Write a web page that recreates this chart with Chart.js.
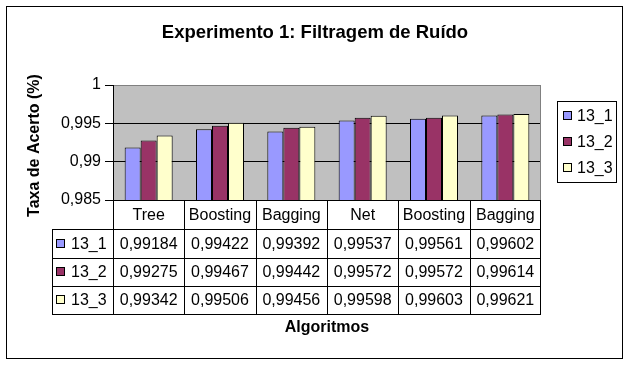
<!DOCTYPE html>
<html>
<head>
<meta charset="utf-8">
<script src="https://cdn.jsdelivr.net/npm/chart.js@4/dist/chart.umd.min.js"></script>
<style>
html,body{margin:0;padding:0;background:#fff;}
canvas{display:block;}
</style>
</head>
<body>
<canvas id="c" width="630" height="384"></canvas>
<script>
const categories = ["Tree", "Boosting", "Bagging", "Net", "Boosting", "Bagging"];
const seriesNames = ["13_1", "13_2", "13_3"];
const s13_1 = [0.99184, 0.99422, 0.99392, 0.99537, 0.99561, 0.99602];
const s13_2 = [0.99275, 0.99467, 0.99442, 0.99572, 0.99572, 0.99614];
const s13_3 = [0.99342, 0.99506, 0.99456, 0.99598, 0.99603, 0.99621];
const seriesColors = ["#9999FF", "#993366", "#FFFFCC"];
const yMin = 0.985, yMax = 1, yStep = 0.005;
const chartTitle = "Experimento 1: Filtragem de Ruído";
const yTitle = "Taxa de Acerto (%)";
const xTitle = "Algoritmos";

const seriesData = [s13_1, s13_2, s13_3];
const FONT = "'Liberation Sans', Arial, sans-serif";
const fmt = v => v.toFixed(5).replace('.', ',');

const decor = {
  id: 'decor',
  beforeDraw(chart) {
    const ctx = chart.ctx, a = chart.chartArea;
    ctx.save();
    ctx.fillStyle = '#fff';
    ctx.fillRect(0, 0, chart.width, chart.height);
    ctx.fillStyle = '#C0C0C0';
    ctx.fillRect(a.left, a.top, a.right - a.left, a.bottom - a.top);
    ctx.restore();
  },
  afterDraw(chart) {
    const ctx = chart.ctx, a = chart.chartArea;
    ctx.save();
    // right border of plot area
    ctx.strokeStyle = '#808080';
    ctx.lineWidth = 1;
    ctx.beginPath();
    ctx.moveTo(Math.round(a.right) - 0.5, a.top);
    ctx.lineTo(Math.round(a.right) - 0.5, a.bottom);
    ctx.stroke();

    // data table
    const n = categories.length;
    const colW = (a.right - a.left) / n;
    const legendLeft = 52;
    const rows = [a.bottom, 229, 258, 286, 314];
    ctx.strokeStyle = '#000';
    ctx.beginPath();
    // horizontal lines
    ctx.moveTo(a.left, Math.round(rows[0]) + 0.5); ctx.lineTo(a.right, Math.round(rows[0]) + 0.5);
    for (let r = 1; r < rows.length; r++) {
      ctx.moveTo(legendLeft, rows[r] + 0.5); ctx.lineTo(a.right, rows[r] + 0.5);
    }
    // vertical lines
    for (let i = 0; i <= n; i++) {
      const x = Math.round(a.left + i * colW) + (i === n ? -0.5 : 0.5);
      ctx.moveTo(x, rows[0]); ctx.lineTo(x, rows[rows.length - 1] + 1);
    }
    ctx.moveTo(legendLeft + 0.5, rows[1]); ctx.lineTo(legendLeft + 0.5, rows[rows.length - 1] + 1);
    ctx.stroke();

    ctx.fillStyle = '#000';
    ctx.font = '16px ' + FONT;
    ctx.textAlign = 'center';
    ctx.textBaseline = 'middle';
    for (let i = 0; i < n; i++) {
      const cx = a.left + (i + 0.5) * colW;
      ctx.fillText(categories[i], cx, (rows[0] + rows[1]) / 2 + 1);
      for (let s = 0; s < seriesData.length; s++) {
        ctx.fillText(fmt(seriesData[s][i]), cx, (rows[s + 1] + rows[s + 2]) / 2 + 1);
      }
    }
    // table legend keys
    for (let s = 0; s < seriesNames.length; s++) {
      const cy = (rows[s + 1] + rows[s + 2]) / 2;
      ctx.fillStyle = seriesColors[s];
      ctx.fillRect(56.5, Math.round(cy) - 4.5, 8, 8);
      ctx.strokeRect(56.5, Math.round(cy) - 4.5, 8, 8);
      ctx.fillStyle = '#000';
      ctx.textAlign = 'left';
      ctx.fillText(seriesNames[s], 71, cy + 1);
    }

    // legend box
    ctx.strokeRect(557.5, 101.5, 59, 81);
    for (let s = 0; s < seriesNames.length; s++) {
      const cy = 116 + s * 26;
      ctx.fillStyle = seriesColors[s];
      ctx.fillRect(563.5, cy - 4.5, 8, 8);
      ctx.strokeRect(563.5, cy - 4.5, 8, 8);
      ctx.fillStyle = '#000';
      ctx.fillText(seriesNames[s], 577, cy + 1);
    }

    // titles
    ctx.textAlign = 'center';
    ctx.font = 'bold 18.5px ' + FONT;
    ctx.fillText(chartTitle, 315, 33);
    ctx.font = 'bold 16px ' + FONT;
    ctx.fillText(xTitle, (a.left + a.right) / 2, 328);
    ctx.save();
    ctx.translate(35, (a.top + a.bottom) / 2 + 3);
    ctx.rotate(-Math.PI / 2);
    ctx.fillText(yTitle, 0, 0);
    ctx.restore();

    // outer frame
    ctx.strokeStyle = '#000';
    ctx.strokeRect(6.5, 6.5, 616, 352);
    ctx.restore();
  }
};

new Chart(document.getElementById('c'), {
  type: 'bar',
  data: {
    labels: categories,
    datasets: seriesNames.map((name, i) => ({
      label: name,
      data: seriesData[i],
      backgroundColor: seriesColors[i],
      borderColor: '#000',
      borderWidth: 1,
      categoryPercentage: 0.673,
      barPercentage: 1
    }))
  },
  options: {
    responsive: false,
    devicePixelRatio: 1,
    animation: false,
    layout: { padding: { left: 0, top: 85, right: 89, bottom: 184 } },
    plugins: { legend: { display: false }, title: { display: false }, tooltip: { enabled: false } },
    scales: {
      x: { display: false },
      y: {
        min: yMin, max: yMax,
        afterFit(scale) { scale.width = 113; },
        ticks: {
          stepSize: yStep,
          color: '#000',
          padding: 4,
          font: { family: FONT, size: 16 },
          callback: v => Number(v.toFixed(3)).toString().replace('.', ',')
        },
        grid: {
          color: ctx => (ctx.tick && Math.abs(ctx.tick.value - yMax) < 1e-9) ? '#808080' : '#000',
          tickColor: '#000',
          tickLength: 8,
          lineWidth: 1
        },
        border: { display: true, color: '#000', width: 1 }
      }
    }
  },
  plugins: [decor]
});
</script>
</body>
</html>
